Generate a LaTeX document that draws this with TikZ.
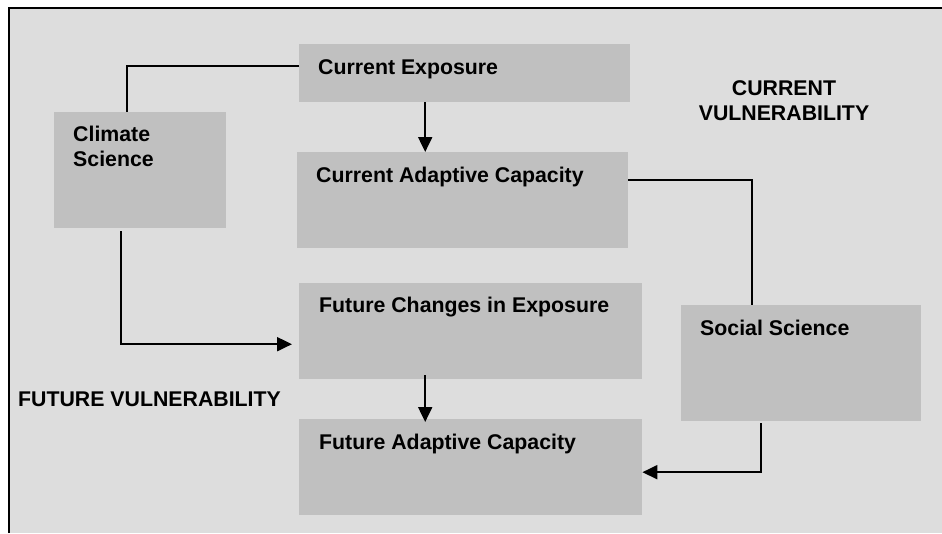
\documentclass[tikz,border=0pt]{standalone}
\usepackage{fontspec}
\setmainfont{Liberation Sans}
\usetikzlibrary{calc,arrows.meta}
\definecolor{bggray}{HTML}{DDDDDD}
\definecolor{boxgray}{HTML}{C0C0C0}
\tikzset{
  box/.style={fill=boxgray, draw=none, inner sep=0pt, anchor=north west},
  lbl/.style={inner sep=0pt, anchor=base west, text=black, font=\bfseries\fontsize{21.3}{25}\selectfont},
  ttl/.style={inner sep=0pt, anchor=base, text=black, font=\bfseries\fontsize{21.3}{25}\selectfont},
  conn/.style={draw=black, line width=2pt},
  arr/.style={conn, -{Triangle[length=15pt,width=14pt]}}
}
\begin{document}
\begin{tikzpicture}[x=1pt,y=-1pt]
\useasboundingbox (0,0) rectangle (942,533);
% background and frame
\fill[bggray] (8,8) rectangle (942,533);
\draw[black, line width=2pt] (8.5,533) -- (8.5,8) -- (942,8);
% boxes
\node[box, minimum width=172pt, minimum height=116pt] (cs)  at (54,112) {};
\node[box, minimum width=331pt, minimum height=58pt]  (ce)  at (299,44) {};
\node[box, minimum width=331pt, minimum height=96pt]  (cac) at (297,152) {};
\node[box, minimum width=343pt, minimum height=96pt]  (fce) at (299,283) {};
\node[box, minimum width=343pt, minimum height=96pt]  (fac) at (299,419) {};
\node[box, minimum width=240pt, minimum height=116pt] (ss)  at (681,305) {};
% box texts
\node[lbl] (cst1) at ($(cs.north west)+(19,29.7)$) {Climate};
\node[lbl] (cst2) at ($(cs.north west)+(19,54.5)$) {Science};
\node[lbl] (cet)  at ($(ce.north west)+(19,30)$) {Current Exposure};
\node[lbl] (cact) at ($(cac.north west)+(19,30.7)$) {Current Adaptive Capacity};
\node[lbl] (fcet) at ($(fce.north west)+(20,29.3)$) {Future Changes in Exposure};
\node[lbl] (fact) at ($(fac.north west)+(20,30)$) {Future Adaptive Capacity};
\node[lbl] (sst)  at ($(ss.north west)+(19,30)$) {Social Science};
% titles
\node[ttl] (cv1) at (784,95.7) {CURRENT};
\node[ttl] (cv2) at (784,120.7) {VULNERABILITY};
\node[lbl] (fv)  at (18,406) {FUTURE VULNERABILITY};
% connectors
\draw[conn] ([yshift=7pt]ce.west) -| ([xshift=-13pt]cs.north);
\draw[arr] ([xshift=-19pt,yshift=-3pt]cs.south) |- ([xshift=-7pt,yshift=-13pt]fce.west);
\draw[arr] ([xshift=-39.5pt]ce.south) -- ([xshift=-39.5pt]ce.south |- cac.north);
\draw[conn] ([yshift=20pt]cac.east) -| ([xshift=-49pt]ss.north);
\draw[arr] ([xshift=-45.5pt,yshift=4pt]fce.south) -- ([xshift=-45.5pt,yshift=-3pt]fce.south |- fac.north);
\draw[arr] ([xshift=-40pt,yshift=-2pt]ss.south) |- ([yshift=-5pt]fac.east);
\end{tikzpicture}
\end{document}
